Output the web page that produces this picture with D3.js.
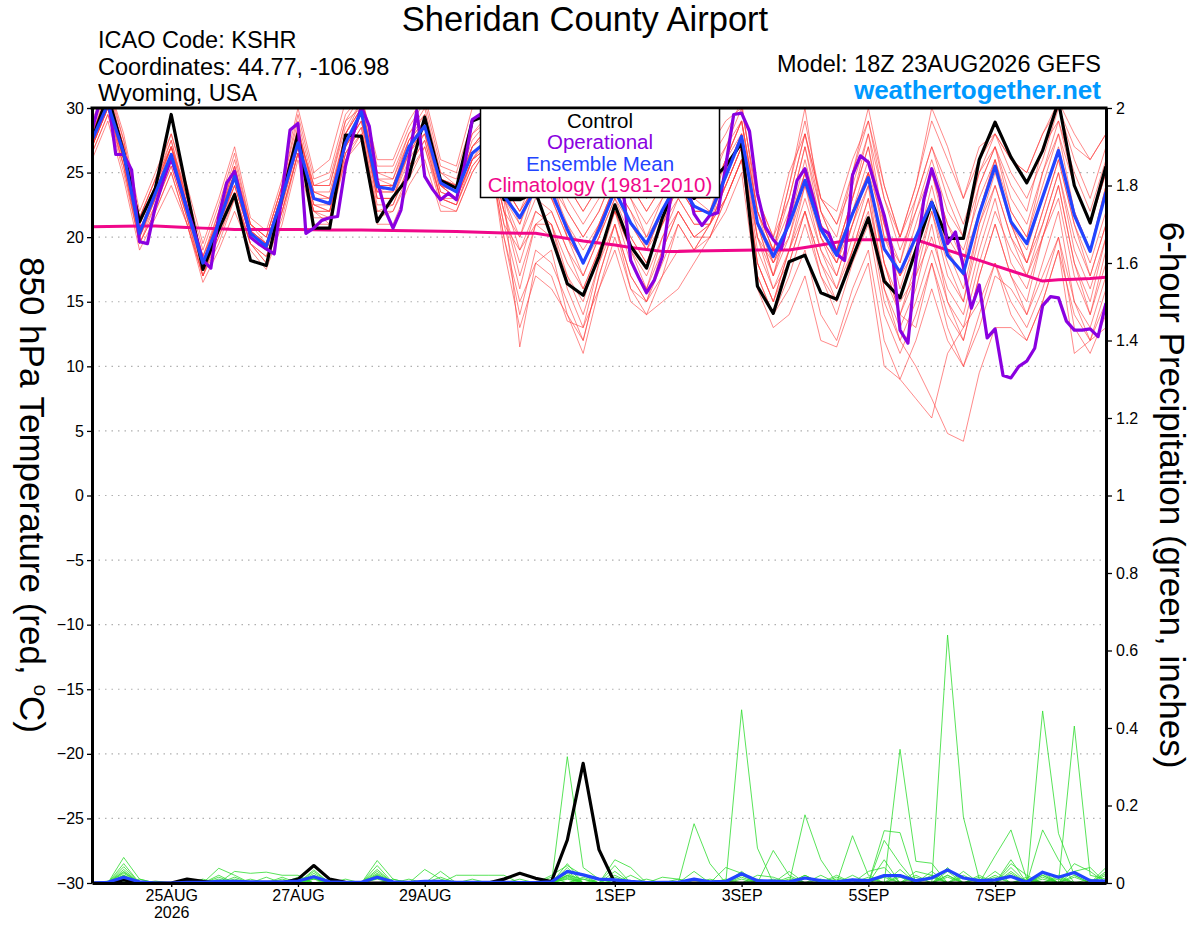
<!DOCTYPE html>
<html>
<head>
<meta charset="utf-8">
<script src="https://cdn.jsdelivr.net/npm/d3@7"></script>
<style>
  body { margin: 0; background: #fff; }
  text { font-family: "Liberation Sans", Arial, Helvetica, sans-serif; }
</style>
</head>
<body>
<script>
// 6-hourly steps from 18Z 23AUG2026 to 18Z 08SEP2026 (65 values); operational run is 3-hourly (129 values)
var runStart = Date.UTC(2026, 7, 23, 18);

var controlTemp = [27.5, 31, 26.5, 21.2, 23.8, 29.5, 23.5, 17.5, 20.6, 23.3, 18.2, 17.8, 23.1,
  28.0, 20.7, 20.7, 27.9, 27.8, 21.2, 23.1, 24.7, 29.3, 24.4, 23.8, 29, 29.5,
  22.9, 22.9, 23.5, 20, 16.4, 15.5, 18.5, 22.5, 19.3, 17.6, 21.5, 24.5, 23,
  24.3, 25.5, 27.3, 16.2, 14.1, 18.1, 18.6, 15.7, 15.2, 18.4, 21.5, 16.6, 15.3,
  19.0, 22.7, 19.9, 19.9, 26.0, 28.9, 26.2, 24.2, 26.7, 30.5, 24.0, 21.1, 25.5];

var meanTemp = [27.5, 30.3, 26.5, 20.3, 23.4, 26.4, 22.1, 18.0, 21.1, 24.7, 20.3, 19.3, 23.1,
  27.3, 23.0, 22.6, 27.3, 29.7, 23.9, 23.7, 27.0, 28.6, 24.2, 23.5, 26.5, 27.5,
  23.2, 21.5, 23.8, 23.5, 20.6, 18.0, 20.6, 23.6, 21.1, 19.5, 22.1, 24.3, 22.4,
  21.8, 24.7, 27.8, 21.1, 18.5, 21.0, 24.4, 20.6, 18.6, 21.8, 24.6, 19.1, 17.3,
  20.0, 22.7, 18.6, 17.2, 21.8, 25.5, 21.2, 19.5, 23.1, 26.7, 21.7, 18.9, 23.5];

var operTemp = [28.3, 30.5, 31, 26.4, 26.4, 25.2, 19.65, 19.5, 22.4, 24.4, 26.1, 24.2, 22.2, 20.3, 18.2, 17.6,
  21.6, 24.2, 25.1, 22.6, 20.0, 19.5, 19.1, 18.7, 23.4, 28.3, 28.8, 20.3, 20.7, 21.3, 21.5, 21.6,
  25.5, 28.0, 30.1, 28.6, 24.4, 22.1, 20.7, 22.1, 26.0, 29.8, 24.7, 23.7, 22.9, 23.4, 22.9, 25.5,
  29.1, 29.5, 28, 26.5, 25.5, 25, 26, 27.5, 29, 30, 29, 27, 25.5, 24.5, 24, 24.5,
  26, 27.5, 27, 24, 18.2, 16.9, 15.7, 16.7, 18.5, 22.9, 25, 24.5, 21.8, 20.9, 21.7, 21.9,
  25.5, 29.5, 29.6, 28.2, 23.4, 20.8, 19.8, 19.1, 21.5, 24.4, 25.3, 23.1, 20.7, 20.3, 18.7, 18.2,
  24.8, 26.3, 25.8, 23.7, 21.7, 19.0, 12.8, 11.8, 18.2, 22.9, 25.3, 23.4, 19.5, 20.4, 17.7, 14.5,
  16.3, 12.2, 12.9, 9.3, 9.1, 10.0, 10.4, 11.4, 14.7, 15.4, 15.3, 13.5, 12.8, 12.8, 12.9, 12.3,
  14.9];

var climTemp = [20.8, 20.82, 20.84, 20.86, 20.86, 20.8, 20.75, 20.7, 20.65, 20.6, 20.6, 20.6, 20.6,
  20.6, 20.58, 20.56, 20.55, 20.55, 20.53, 20.52, 20.5, 20.48, 20.46, 20.44, 20.4, 20.36,
  20.33, 20.3, 20.3, 20.1, 19.9, 19.7, 19.55, 19.4, 19.2, 19.05, 18.9, 18.9, 18.92,
  18.94, 18.96, 18.98, 19.0, 19.0, 19.0, 19.2, 19.4, 19.6, 19.8, 19.8, 19.8, 19.8,
  19.8, 19.4, 19.0, 18.6, 18.2, 17.8, 17.4, 17.0, 16.6, 16.7, 16.75, 16.8, 16.9];

var memberTemp = [
  [28, 31, 27, 21, 24, 27, 22, 18, 21, 25, 20, 19, 23, 28, 23, 23, 28, 30, 24, 24, 27, 29, 24, 23, 27, 28,
   24, 22, 24, 24, 21, 18, 21, 24, 22, 20, 23, 25, 23, 22, 25, 28, 21, 18, 20, 24, 20, 18, 22, 25, 19, 17,
   20, 23, 19, 17, 22, 26, 21, 19, 23, 27, 22, 19, 24],
  [27, 30, 26, 20, 23, 26, 22, 17.5, 21, 24, 20, 19, 23, 27, 22, 22, 27, 29, 23, 23, 26, 28, 23, 23, 26, 28,
   25, 24, 26, 26, 23, 21, 23, 26, 24, 22, 24, 27, 25, 24, 27, 30, 23, 20, 23, 28, 23, 21, 24, 28, 23, 20,
   23, 27, 24, 21, 25, 28, 25, 23, 26, 30, 26, 23, 27],
  [26.5, 29.5, 25, 19.5, 22, 25, 21, 17, 20, 23.5, 19.5, 18.5, 22, 26.5, 22, 21.5, 26.5, 28.5, 22, 22.5, 25.5, 27.5, 23, 22.5, 26, 27,
   20, 14, 19, 18, 15, 12, 17, 21, 17, 15, 18, 21, 19, 20, 23, 26, 17, 14, 17, 21, 17, 14, 18, 21, 14, 11,
   14, 18, 13, 10, 13, 17, 16, 14, 17, 20, 15, 13, 17],
  [28.5, 32, 27.5, 21.5, 24.5, 27.5, 23, 18.5, 22, 26, 21, 20, 24, 29, 24, 24, 29, 31, 25, 25, 28, 30, 25, 24.5, 28, 29,
   23, 20, 23, 22, 19, 17, 20, 23, 20, 18, 21, 23, 21, 21, 24, 27, 19, 16, 18, 22, 18, 16, 19, 22, 15, 12,
   10, 7.5, 4.8, 4.2, 9.5, 13, 13, 12, 15, 19, 14, 12, 15],
  [27.5, 31, 26.5, 20.5, 23.5, 27, 22.5, 18, 21.5, 25.5, 20.5, 19.5, 23.5, 28.5, 23.5, 23, 28, 30.5, 24.5, 24, 27.5, 29.5, 24.5, 24, 27.5, 29,
   25.5, 23, 26, 27, 24, 22, 24, 27, 25, 23, 25, 27, 26, 26, 28, 30.5, 22, 19, 24, 30, 22, 20, 25, 30, 24, 20,
   24, 30, 27, 23, 27, 28, 26, 25, 28, 30.5, 28, 26, 28],
  [27, 30, 26, 20, 23, 26, 21.5, 17, 20.5, 24.5, 20, 19, 22.5, 27, 22.5, 22, 27, 29.5, 23.5, 23.5, 26.5, 28.5, 24, 23, 26, 27.5,
   22, 17, 21, 21, 17, 14, 18, 22, 19, 16, 20, 22, 20, 21, 24, 27, 18, 15, 19, 23, 19, 16, 20, 24, 18, 15,
   17, 20, 16, 14, 19, 23, 18, 16, 20, 24, 18, 15, 20],
  [28, 31.5, 27, 21, 24, 27.5, 22.5, 18.5, 21.5, 25, 20.5, 19.5, 23, 27.5, 23, 22.5, 27.5, 29.5, 23, 23, 27, 28.5, 24, 23.5, 26.5, 27.5,
   23, 11.5, 18, 19, 14, 11, 16, 20, 16, 14, 17, 21, 19, 21, 25, 28, 21, 17, 21, 26, 21, 18, 22, 26, 20, 17,
   21, 25, 21, 19, 23, 26, 22, 20, 24, 28, 22, 19, 24],
  [26, 29, 24.5, 19, 21.5, 24, 21, 16.5, 19, 22, 19, 17.5, 21, 26, 21, 21, 26, 27.5, 21, 21, 24, 26, 22, 22, 25, 27,
   21, 19, 22, 21, 18, 16, 19, 22, 20, 18, 21, 24, 22, 22, 25, 28, 20, 17, 20, 25, 20, 17, 21, 25, 18, 14,
   13, 18, 14, 12, 17, 21, 17, 15, 20, 24, 18, 14, 19],
  [29, 32, 28, 22, 25, 28, 24, 19.5, 23, 27, 21.5, 20.5, 24.5, 30, 25, 26, 30.5, 31, 26, 26, 29, 31, 26, 25.5, 30, 31,
   26, 23, 27, 26, 24, 22, 24, 27, 26, 23, 25, 27, 26, 27, 29, 30, 23, 20, 25, 28, 23, 22, 26, 29, 24, 20,
   24, 29, 26, 23, 26, 28, 26, 25, 28, 30, 27, 26, 28],
  [27, 30.5, 26, 20, 23, 26.5, 22, 18, 21, 24, 20, 19, 23, 27, 22.5, 22.5, 27, 29, 23.5, 24, 27, 28, 24, 23, 26, 27,
   20, 15, 18, 17, 13.5, 13, 16, 19, 15, 14, 15, 16, 18, 20, 22, 25, 16, 13, 14, 17, 12, 11.5, 15, 18, 10, 9,
   7.5, 6, 11, 13, 15, 18, 14, 12, 15, 19, 11, 12, 13],
  [28, 31, 27, 21.5, 24.5, 27, 23.5, 18, 22, 25.5, 21, 20, 24, 28, 24, 24.5, 29, 30, 25, 24.5, 28, 29.5, 25, 24, 28, 29.5,
   24, 21, 25, 25, 22, 20, 22, 25, 23, 21, 23, 26, 24, 23, 26, 29, 22, 19, 22, 27, 21, 19, 23, 27, 20, 18,
   22, 26, 22, 20, 25, 27, 24, 22, 27, 29, 25, 22, 26],
  [27, 30, 25.5, 19.5, 22.5, 25.5, 21.5, 17.5, 20, 23, 19.5, 18.5, 22, 26.5, 21.5, 21.5, 26, 28, 22, 22, 25, 27, 23, 22.5, 25.5, 27,
   22, 18, 22, 21, 16, 13, 18, 21, 17, 15, 19, 22, 20, 21, 23, 26, 20, 16, 19, 22, 18, 15, 19, 23, 16, 12,
   15, 19, 15, 13, 18, 22, 19, 17, 21, 25, 20, 17, 21],
  [28, 31, 27, 21, 23.5, 27, 23, 18, 21.5, 25, 20.5, 19.5, 23.5, 28, 24, 24, 28.5, 30.5, 24.5, 24.5, 27.5, 29, 24.5, 24, 27, 28.5,
   25, 24, 27, 25, 20, 17, 20, 24, 22, 19, 22, 25, 24, 23, 26, 29, 22, 18, 21, 25, 21, 19, 22, 25, 21, 18,
   23, 27, 23, 20, 24, 27, 23, 21, 25, 28, 24, 21, 25],
  [27.5, 30.5, 26.5, 20.5, 23, 26, 22, 17.5, 21, 24.5, 20, 19, 22.5, 27, 23, 22.5, 27, 29, 23, 23, 26.5, 28, 23.5, 23, 26, 27,
   21, 16, 21, 22, 19, 16, 19, 22, 18, 16, 19, 22, 20, 20, 23, 26, 18, 15, 18, 22, 17, 15, 19, 23, 17, 14,
   18, 22, 18, 15, 20, 24, 20, 18, 21, 25, 19, 16, 20],
  [26.5, 29.5, 25.5, 20, 22.5, 25.5, 21.5, 17, 20.5, 23.5, 19.5, 18, 22, 26.5, 22, 22, 26.5, 28.5, 22.5, 22.5, 25.5, 27.5, 23, 22.5, 25.5, 27,
   22, 20, 24, 23, 20, 18, 21, 24, 21, 19, 22, 24, 22, 22, 24, 27, 20, 18, 21, 25, 20, 18, 21, 24, 16, 13,
   16, 21, 15, 12, 17, 21, 17, 14, 18, 22, 15, 12, 16],
  [28.5, 31.5, 27.5, 21.5, 24.5, 28, 23.5, 19, 22.5, 26.5, 21, 20, 24, 29.5, 24.5, 25, 29.5, 31, 25.5, 25.5, 28.5, 30.5, 25.5, 25, 29, 30,
   24, 22, 25, 24, 22, 20, 22, 25, 24, 22, 24, 26, 25, 25, 27, 29, 21, 19, 24, 29, 23, 21, 25, 29, 23, 19,
   22, 25, 20, 18, 24, 27, 22, 20, 25, 29, 24, 21, 25],
  [27, 30, 26, 20.5, 23.5, 26, 22, 18, 20.5, 24, 20, 19, 23, 27, 22.5, 22, 27.5, 29.5, 23.5, 23.5, 26.5, 28.5, 23.5, 23, 26.5, 27.5,
   19, 13, 17, 16, 14, 12, 17, 21, 16, 15, 17, 19, 19, 21, 23, 26, 17, 14, 16, 19, 14, 12, 16, 19, 12, 9,
   12, 16, 12, 10, 14, 18, 15, 13, 16, 20, 13, 11, 14],
  [28, 31, 26.5, 21, 24, 27, 23, 18.5, 21.5, 25, 21, 19.5, 23.5, 28.5, 23.5, 23.5, 28, 30, 24, 24, 27, 29, 24.5, 24, 27, 28.5,
   23, 21, 24, 23, 20, 18, 20, 23, 21, 19, 21, 24, 22, 22, 26, 29, 22, 19, 23, 28, 22, 19, 23, 27, 21, 17,
   19, 24, 19, 16, 21, 25, 21, 18, 22, 26, 21, 18, 22],
  [27, 30, 25.5, 19.5, 22, 25, 21, 17, 19.5, 23, 19.5, 18, 21.5, 26.5, 22, 21, 26.5, 28, 21.5, 22, 24.5, 27, 22.5, 22, 25, 27,
   23, 19, 21, 20, 17, 15, 19, 22, 19, 17, 20, 23, 21, 21, 24, 27, 18, 15, 19, 24, 19, 17, 21, 25, 18, 14,
   17, 22, 17, 15, 21, 24, 20, 17, 20, 23, 17, 14, 18],
  [28, 31, 27, 21, 24, 27, 22.5, 18, 21.5, 25.5, 20.5, 19.5, 23.5, 28, 23.5, 23, 28, 30, 24, 24, 27.5, 29, 24, 23.5, 27, 28.5,
   24, 22, 24, 23, 21, 19, 21, 24, 23, 20, 22, 25, 23, 23, 26, 28, 21, 17, 22, 27, 22, 19, 23, 28, 21, 16,
   20, 25, 21, 18, 22, 26, 21, 18, 22, 26, 21, 17, 21]
];

var controlPrecip = [0, 0, 0.008, 0, 0, 0, 0.01, 0.004, 0, 0, 0, 0, 0,
  0.01, 0.045, 0.01, 0.002, 0, 0, 0, 0, 0, 0, 0, 0, 0,
  0.01, 0.025, 0.012, 0.004, 0.111, 0.309, 0.086, 0, 0, 0, 0, 0, 0,
  0, 0, 0, 0, 0, 0, 0, 0, 0, 0, 0, 0, 0,
  0, 0, 0, 0, 0, 0, 0, 0, 0, 0, 0, 0, 0];

var meanPrecip = [0, 0.002, 0.015, 0.003, 0, 0, 0.002, 0.002, 0.004, 0.004, 0.003, 0.003, 0.003,
  0.005, 0.016, 0.003, 0.002, 0.002, 0.015, 0.003, 0.002, 0.004, 0.004, 0.002, 0.002, 0.002,
  0.002, 0.001, 0.001, 0.003, 0.03, 0.021, 0.01, 0.008, 0.004, 0.001, 0.002, 0.002, 0.01,
  0.003, 0.004, 0.024, 0.006, 0.005, 0.003, 0.013, 0.006, 0.003, 0.008, 0.006, 0.019, 0.019,
  0.006, 0.013, 0.034, 0.013, 0.006, 0.008, 0.017, 0.002, 0.028, 0.015, 0.027, 0.006, 0.005];

// ensemble member precipitation, only the non-zero steps as [step, inches]
var memberPrecip = [
  [[2, .066], [3, .01], [8, .038], [9, .02], [18, .058], [19, .01], [30, .326], [31, .04], [32, .01], [45, .02], [54, .64], [55, .17], [56, .01]],
  [[2, .05], [14, .034], [21, .035], [22, .01], [30, .05], [33, .06], [34, .04], [41, .447], [42, .09], [48, .02], [60, .02]],
  [[2, .042], [9, .03], [10, .025], [11, .028], [12, .02], [13, .02], [18, .045], [23, .02], [24, .02], [25, .02], [26, .02], [38, .153], [39, .05], [51, .345], [52, .056], [53, .051], [58, .02]],
  [[2, .035], [14, .025], [18, .035], [22, .03], [29, .02], [30, .045], [31, .02], [43, .084], [44, .02], [60, .444], [61, .128], [62, .02]],
  [[2, .028], [8, .02], [13, .015], [18, .03], [30, .03], [33, .045], [45, .176], [46, .06], [50, .135], [51, .13], [62, .405], [63, .02], [64, .01]],
  [[2, .02], [12, .015], [14, .03], [18, .022], [33, .03], [38, .03], [41, .03], [48, .122], [49, .02], [57, .07], [58, .137], [59, .01], [64, .04]],
  [[2, .015], [6, .01], [18, .015], [30, .02], [31, .01], [40, .04], [41, .025], [47, .015], [50, .11], [51, .05], [54, .03], [60, .137], [61, .06]],
  [[2, .01], [7, .01], [11, .015], [14, .02], [19, .01], [30, .015], [34, .02], [42, .02], [43, .015], [52, .03], [53, .02], [58, .05], [59, .02]],
  [[3, .01], [9, .015], [14, .015], [20, .01], [31, .015], [44, .01], [49, .03], [50, .04], [55, .03], [58, .03], [62, .05], [63, .03]],
  [[2, .012], [13, .01], [15, .01], [30, .01], [36, .015], [37, .01], [46, .02], [51, .02], [54, .02], [57, .02], [60, .03], [64, .02]],
  [[8, .01], [18, .012], [33, .02], [41, .01], [44, .03], [49, .015], [53, .02], [56, .015], [58, .04], [61, .02]],
  [[2, .008], [14, .01], [24, .01], [32, .01], [39, .01], [45, .02], [52, .015], [55, .02], [59, .015], [62, .03], [63, .04]],
  [[4, .005], [12, .01], [18, .01], [30, .012], [40, .01], [47, .02], [50, .02], [54, .015], [57, .015], [60, .02]],
  [[2, .01], [10, .01], [16, .01], [27, .01], [35, .01], [43, .01], [51, .035], [56, .01], [61, .015], [64, .025]],
  [[1, .005], [14, .012], [22, .015], [31, .01], [38, .01], [46, .01], [50, .06], [53, .03], [58, .06], [62, .015]],
  [[2, .02], [9, .01], [18, .02], [30, .025], [41, .015], [45, .015], [49, .01], [54, .04], [60, .015], [63, .01]],
  [[2, .03], [14, .015], [30, .04], [33, .015], [42, .01], [48, .01], [51, .015], [57, .03], [59, .01]],
  [[2, .025], [18, .025], [30, .02], [44, .015], [52, .02], [55, .015], [58, .025], [61, .01], [64, .03]],
  [[2, .005], [8, .015], [14, .01], [29, .015], [37, .01], [50, .015], [54, .02], [60, .025], [62, .02]],
  [[2, .018], [13, .01], [18, .018], [30, .018], [41, .02], [47, .01], [53, .015], [56, .02], [60, .01]]
];

var tempTicks = [30, 25, 20, 15, 10, 5, 0, -5, -10, -15, -20, -25, -30];
var precipTicks = [0, 0.2, 0.4, 0.6, 0.8, 1, 1.2, 1.4, 1.6, 1.8, 2];
var dayTicks = [
  {date: Date.UTC(2026, 7, 25), label: "25AUG", year: "2026"},
  {date: Date.UTC(2026, 7, 27), label: "27AUG"},
  {date: Date.UTC(2026, 7, 29), label: "29AUG"},
  {date: Date.UTC(2026, 8, 1), label: "1SEP"},
  {date: Date.UTC(2026, 8, 3), label: "3SEP"},
  {date: Date.UTC(2026, 8, 5), label: "5SEP"},
  {date: Date.UTC(2026, 8, 7), label: "7SEP"}
];
var legendItems = [
  {text: "Control", color: "#000000"},
  {text: "Operational", color: "#8a00e0"},
  {text: "Ensemble Mean", color: "#2244ff"},
  {text: "Climatology (1981-2010)", color: "#f0078a"}
];

var width = 1200, height = 927,
    plot = {left: 92, right: 1106, top: 108, bottom: 883};

var svg = d3.select("body").append("svg")
    .attr("width", width)
    .attr("height", height);

var x = d3.scaleUtc()
    .domain([new Date(runStart), new Date(runStart + 64 * 6 * 3600e3)])
    .range([plot.left, plot.right]);
var yT = d3.scaleLinear().domain([-30, 30]).range([plot.bottom, plot.top]);
var yP = d3.scaleLinear().domain([0, 2]).range([plot.bottom, plot.top]);

function stepTime(hours) {
  return function(d, i) { return x(new Date(runStart + i * hours * 3600e3)); };
}

var tempLine = d3.line().x(stepTime(6)).y(function(d) { return yT(d); });
var operLine = d3.line().x(stepTime(3)).y(function(d) { return yT(d); });
var precipLine = d3.line().x(stepTime(6)).y(function(d) { return yP(d); });

svg.append("clipPath").attr("id", "plotclip")
  .append("rect")
    .attr("x", plot.left).attr("y", plot.top)
    .attr("width", plot.right - plot.left).attr("height", plot.bottom - plot.top);

// dotted grid on the temperature ticks
svg.append("g")
  .selectAll("line")
  .data(tempTicks.slice(1, -1))
  .enter().append("line")
    .attr("x1", plot.left).attr("x2", plot.right)
    .attr("y1", yT).attr("y2", yT)
    .attr("stroke", "#b0b0b0")
    .attr("stroke-width", 1.2)
    .attr("stroke-dasharray", "1.5,5");

var g = svg.append("g").attr("clip-path", "url(#plotclip)");

g.append("g")
  .selectAll("path")
  .data(memberTemp)
  .enter().append("path")
    .attr("d", tempLine)
    .attr("fill", "none")
    .attr("stroke", "#ff3b3b")
    .attr("stroke-opacity", 0.75)
    .attr("stroke-width", 0.8);

var memberPrecipSeries = memberPrecip.map(function(events) {
  var s = controlPrecip.map(function() { return 0; });
  events.forEach(function(e) { s[e[0]] = e[1]; });
  return s;
});

g.append("g")
  .selectAll("path")
  .data(memberPrecipSeries)
  .enter().append("path")
    .attr("d", precipLine)
    .attr("fill", "none")
    .attr("stroke", "#2fdc2f")
    .attr("stroke-width", 0.8);

function thick(d, line, color, w) {
  g.append("path")
    .datum(d)
    .attr("d", line)
    .attr("fill", "none")
    .attr("stroke", color)
    .attr("stroke-width", w)
    .attr("stroke-linejoin", "round");
}

thick(climTemp, tempLine, legendItems[3].color, 3);
thick(controlTemp, tempLine, legendItems[0].color, 3.2);
thick(controlPrecip, precipLine, legendItems[0].color, 3.2);
thick(operTemp, operLine, legendItems[1].color, 3.2);
thick(meanTemp, tempLine, legendItems[2].color, 3.2);
thick(meanPrecip, precipLine, legendItems[2].color, 3.2);

// axes
var yAxisL = svg.append("g")
    .attr("transform", "translate(" + plot.left + ",0)")
    .call(d3.axisLeft(yT).tickValues(tempTicks).tickSize(5).tickSizeOuter(0).tickPadding(3));
var yAxisR = svg.append("g")
    .attr("transform", "translate(" + plot.right + ",0)")
    .call(d3.axisRight(yP).tickValues(precipTicks).tickSize(6).tickSizeOuter(0).tickPadding(4)
      .tickFormat(function(d) { return String(+d.toFixed(1)); }));
var xAxis = svg.append("g")
    .attr("transform", "translate(0," + plot.bottom + ")")
    .call(d3.axisBottom(x).tickValues(dayTicks.map(function(d) { return new Date(d.date); }))
      .tickSize(4).tickSizeOuter(0).tickPadding(3)
      .tickFormat(function(d, i) { return dayTicks[i].label; }));

xAxis.selectAll(".tick")
  .filter(function(d, i) { return dayTicks[i].year; })
  .append("text")
    .attr("y", 24)
    .attr("dy", "0.71em")
    .text(function(d, i) { return "2026"; });

[yAxisL, yAxisR, xAxis].forEach(function(a) {
  a.attr("font-size", 16).attr("font-family", null);
  a.selectAll("text").attr("fill", "#000");
  a.select(".domain").attr("stroke-width", 3);
  a.selectAll(".tick line").attr("stroke-width", 1.3);
});

svg.append("line")
    .attr("x1", plot.left - 1.5).attr("x2", plot.right + 1.5)
    .attr("y1", plot.top).attr("y2", plot.top)
    .attr("stroke", "#000").attr("stroke-width", 3);

// legend
var lg = svg.append("g");
lg.append("rect")
    .attr("x", 480.5).attr("y", 108.5)
    .attr("width", 239).attr("height", 89)
    .attr("fill", "#fff")
    .attr("stroke", "#000")
    .attr("stroke-width", 1.5);
lg.selectAll("text")
  .data(legendItems)
  .enter().append("text")
    .attr("x", 600)
    .attr("y", function(d, i) { return 128 + i * 21.3; })
    .attr("text-anchor", "middle")
    .attr("font-size", 20.5)
    .attr("fill", function(d) { return d.color; })
    .text(function(d) { return d.text; });

// header
svg.append("text")
    .attr("x", 585).attr("y", 31)
    .attr("text-anchor", "middle")
    .attr("font-size", 34.5)
    .text("Sheridan County Airport");

var info = ["ICAO Code: KSHR", "Coordinates: 44.77, -106.98", "Wyoming, USA"];
svg.append("g").selectAll("text")
  .data(info)
  .enter().append("text")
    .attr("x", 98)
    .attr("y", function(d, i) { return 48 + i * 26.5; })
    .attr("font-size", 23.5)
    .text(function(d) { return d; });

svg.append("text")
    .attr("x", 1101).attr("y", 72)
    .attr("text-anchor", "end")
    .attr("font-size", 23.5)
    .text("Model: 18Z 23AUG2026 GEFS");
svg.append("text")
    .attr("x", 1101).attr("y", 99)
    .attr("text-anchor", "end")
    .attr("font-size", 26)
    .attr("font-weight", "bold")
    .attr("fill", "#0099ff")
    .text("weathertogether.net");

// axis titles, both reading top to bottom
var tl = svg.append("text")
    .attr("transform", "translate(20,495) rotate(90)")
    .attr("text-anchor", "middle")
    .attr("font-size", 35);
tl.append("tspan").text("850 hPa Temperature (red, ");
tl.append("tspan").attr("font-size", 21).attr("dy", -14).text("o");
tl.append("tspan").attr("dy", 14).text("C)");

svg.append("text")
    .attr("transform", "translate(1160,495) rotate(90)")
    .attr("text-anchor", "middle")
    .attr("font-size", 35)
    .text("6-hour Precipitation (green, inches)");
</script>
</body>
</html>
